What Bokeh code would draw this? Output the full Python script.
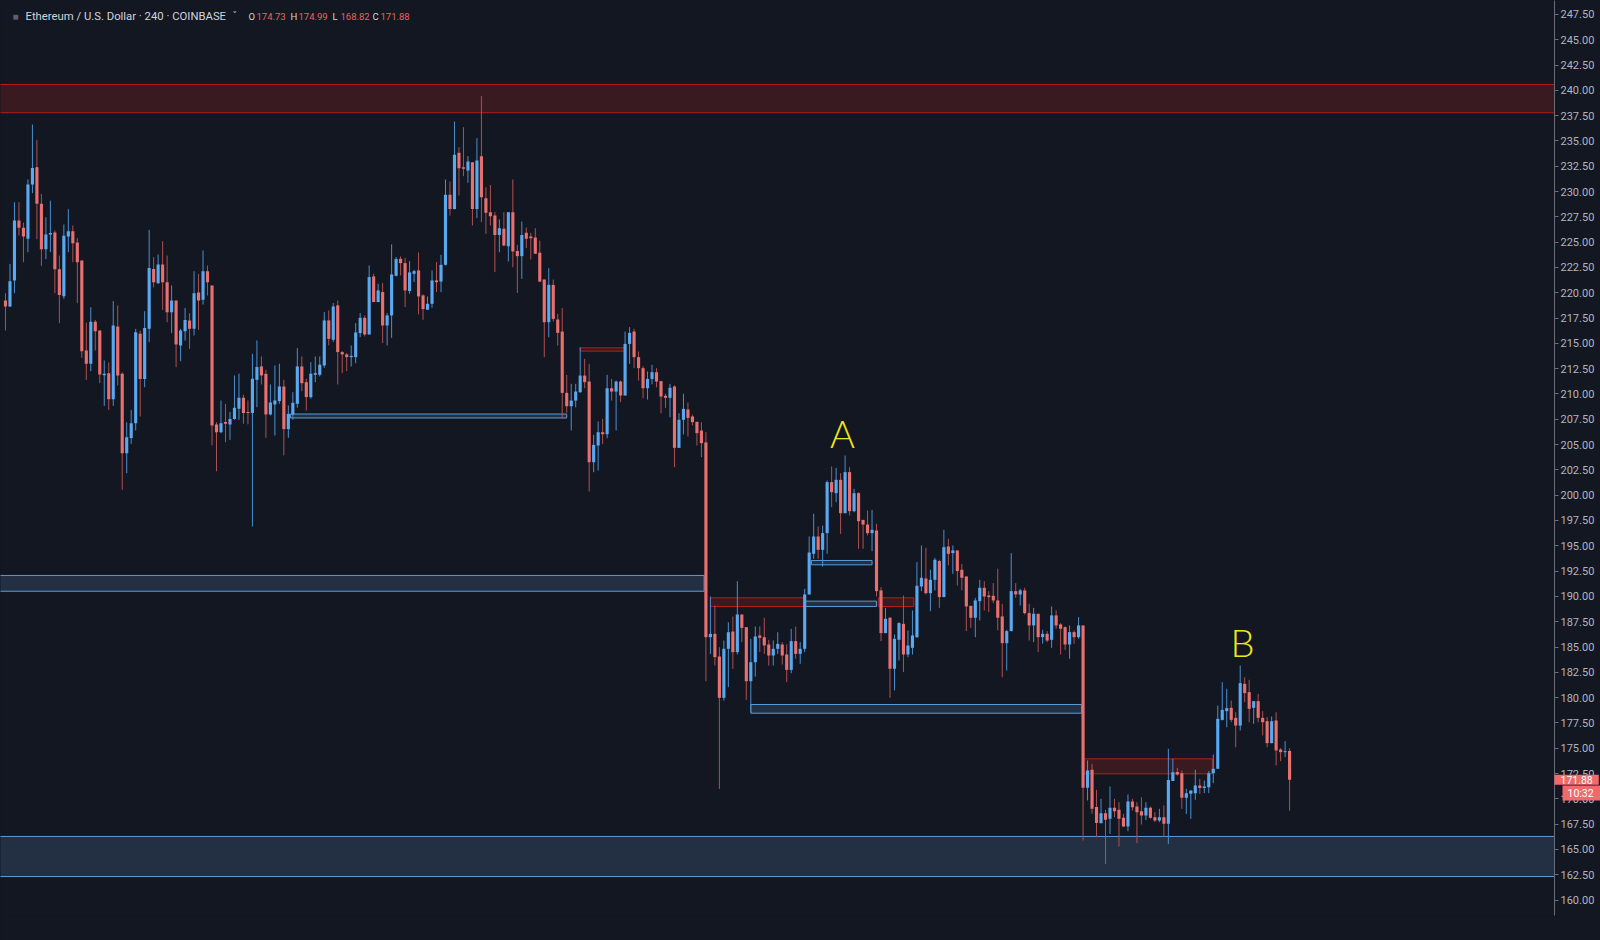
from bokeh.plotting import figure
from bokeh.models import Range1d, FixedTicker, PrintfTickFormatter, Label, ColumnDataSource
from bokeh.embed import file_html
from bokeh.resources import INLINE
from bokeh.core.properties import value

# ---------------- data (ETH/USD, 4h candles, Coinbase) ----------------
opens = [
    219.24, 218.64, 221.21, 227.14, 226.42, 225.33, 230.70, 232.41, 228.79, 224.31,
    225.76, 225.95, 222.33, 219.66, 225.56, 226.09, 224.97, 223.19, 214.30, 212.98,
    217.13, 216.27, 211.85, 212.05, 209.49, 216.67, 211.99, 204.15, 205.66, 207.11,
    215.94, 211.49, 216.44, 222.36, 220.95, 222.79, 221.05, 218.08, 219.23, 214.79,
    216.20, 217.26, 216.44, 220.03, 219.30, 222.13, 220.72, 206.98, 206.23, 207.22,
    206.99, 207.52, 208.54, 209.63, 208.21, 208.11, 211.40, 212.72, 211.99, 207.98,
    208.96, 209.30, 210.74, 206.53, 207.98, 209.03, 212.72, 211.17, 209.69, 211.90,
    211.90, 212.82, 217.27, 215.36, 218.75, 214.14, 213.91, 213.64, 213.64, 216.02,
    217.53, 215.88, 221.61, 219.08, 220.07, 216.77, 217.76, 221.68, 223.36, 222.93,
    220.17, 221.88, 222.21, 219.74, 218.32, 218.91, 221.22, 221.11, 222.76, 229.68,
    228.29, 233.83, 232.41, 232.08, 232.90, 228.29, 233.50, 229.35, 227.96, 227.63,
    225.72, 226.32, 224.60, 227.96, 224.14, 223.62, 225.92, 225.56, 225.46, 223.95,
    221.31, 217.09, 220.78, 217.36, 216.17, 210.11, 208.79, 209.35, 210.18, 211.82,
    211.23, 203.26, 204.91, 206.22, 206.03, 210.57, 210.24, 211.23, 209.85, 214.95,
    216.17, 213.64, 212.55, 210.57, 211.49, 212.15, 211.27, 209.82, 209.62, 210.74,
    204.68, 207.45, 208.47, 207.78, 207.25, 206.39, 205.21, 185.97, 186.30, 184.06,
    179.98, 184.82, 186.53, 184.49, 188.21, 186.96, 181.62, 183.50, 186.14, 185.97,
    185.25, 184.16, 184.82, 185.25, 184.26, 182.74, 185.58, 184.32, 184.82, 190.19,
    194.21, 195.92, 194.60, 196.25, 201.29, 200.20, 201.52, 198.22, 202.28, 198.42,
    200.20, 197.56, 197.10, 196.25, 196.51, 190.59, 186.37, 187.89, 182.85, 185.71,
    187.29, 184.26, 184.92, 185.97, 190.98, 191.77, 190.32, 191.64, 193.49, 189.93,
    194.93, 194.28, 194.54, 192.63, 191.97, 189.07, 187.89, 189.53, 190.85, 190.09,
    190.06, 189.60, 188.02, 185.38, 186.57, 190.52, 190.19, 190.59, 188.35, 187.13,
    188.28, 185.97, 186.30, 185.71, 188.12, 187.23, 186.96, 185.25, 186.47, 185.97,
    187.13, 171.09, 172.87, 169.18, 167.59, 168.58, 168.02, 169.11, 168.91, 168.12,
    167.26, 169.73, 169.24, 168.78, 168.35, 169.11, 168.19, 167.86, 168.19, 167.53,
    171.77, 172.66, 172.53, 170.10, 170.49, 170.56, 171.31, 171.08, 171.15, 172.53,
    172.96, 177.80, 178.66, 178.99, 178.00, 177.24, 181.36, 180.54, 178.99, 179.65,
    178.00, 177.67, 175.50, 177.74, 174.87, 174.61, 174.73,
]
highs = [
    219.96, 222.86, 228.95, 228.95, 226.94, 231.19, 236.63, 235.11, 229.77, 227.47,
    229.10, 226.15, 223.68, 226.75, 228.26, 226.65, 225.43, 223.19, 217.06, 218.58,
    217.32, 216.27, 213.31, 213.11, 219.17, 218.74, 212.15, 207.21, 208.43, 216.44,
    216.27, 218.18, 226.22, 223.52, 223.78, 225.10, 223.68, 220.72, 219.23, 216.44,
    218.51, 217.98, 222.13, 221.87, 224.18, 222.69, 220.72, 207.21, 209.36, 209.03,
    208.21, 211.83, 212.00, 209.92, 209.36, 213.97, 215.29, 213.71, 212.39, 210.94,
    212.82, 212.99, 211.40, 208.87, 210.18, 214.53, 213.71, 211.50, 213.15, 213.71,
    213.71, 218.09, 218.26, 218.98, 219.24, 214.24, 214.04, 214.80, 217.00, 217.99,
    217.76, 222.70, 221.88, 220.89, 220.96, 217.99, 224.78, 223.53, 223.59, 223.46,
    223.13, 222.27, 223.99, 219.84, 219.64, 222.21, 223.03, 223.75, 231.19, 230.99,
    236.92, 234.39, 236.36, 233.50, 232.90, 235.28, 239.43, 230.43, 230.66, 227.96,
    227.24, 227.96, 227.96, 231.19, 224.74, 227.04, 226.45, 225.92, 226.38, 225.16,
    221.31, 222.43, 221.31, 217.92, 218.48, 211.89, 211.00, 211.00, 214.62, 213.47,
    212.98, 205.96, 207.28, 207.54, 211.89, 211.49, 211.33, 211.33, 216.17, 216.60,
    216.44, 214.20, 212.75, 212.22, 212.88, 212.55, 211.27, 210.02, 211.00, 210.84,
    208.10, 210.02, 209.16, 207.97, 207.25, 207.22, 206.23, 189.99, 189.10, 184.98,
    185.64, 187.45, 188.01, 191.50, 188.21, 186.96, 185.81, 187.03, 187.03, 187.88,
    185.71, 185.64, 186.46, 185.48, 185.25, 186.79, 187.03, 185.48, 190.75, 195.92,
    198.16, 196.91, 197.00, 201.45, 202.84, 202.70, 202.18, 203.92, 202.77, 200.63,
    200.30, 197.56, 198.49, 198.55, 197.17, 190.92, 188.87, 187.95, 186.24, 187.46,
    190.09, 186.64, 188.61, 193.39, 195.03, 194.80, 192.63, 193.81, 193.62, 196.58,
    195.69, 195.03, 194.54, 193.22, 191.97, 189.07, 189.86, 191.64, 191.51, 190.52,
    191.31, 192.73, 189.27, 186.70, 194.28, 191.31, 190.75, 190.85, 189.27, 188.87,
    188.28, 186.70, 186.57, 189.01, 188.61, 187.36, 187.03, 187.13, 186.64, 187.95,
    187.13, 173.79, 173.46, 170.89, 170.00, 168.91, 171.22, 170.00, 169.67, 168.51,
    170.43, 170.00, 169.67, 170.16, 169.67, 169.24, 168.68, 169.01, 169.34, 174.94,
    173.95, 173.06, 172.80, 170.99, 170.82, 172.86, 171.97, 171.81, 172.73, 174.38,
    179.22, 181.52, 180.87, 179.71, 178.56, 183.17, 182.02, 181.76, 179.65, 180.37,
    178.66, 178.07, 178.13, 178.56, 175.01, 175.70, 174.99,
]
lows = [
    216.27, 218.60, 219.96, 225.66, 223.02, 224.01, 229.84, 225.30, 222.66, 223.32,
    224.01, 219.96, 217.00, 219.40, 224.01, 223.02, 218.97, 213.57, 211.40, 212.25,
    214.30, 211.07, 208.83, 208.43, 208.83, 210.84, 200.53, 202.17, 205.07, 206.39,
    207.77, 210.67, 215.12, 220.55, 220.88, 218.31, 217.09, 216.01, 212.65, 213.24,
    215.28, 214.46, 215.78, 216.34, 218.84, 219.73, 204.91, 202.37, 206.13, 205.24,
    205.47, 207.45, 207.45, 207.06, 207.00, 196.91, 208.70, 210.94, 205.67, 207.88,
    205.90, 209.03, 203.93, 205.67, 207.45, 208.64, 210.28, 208.37, 209.53, 211.17,
    211.73, 212.59, 214.80, 215.13, 210.94, 212.06, 212.26, 212.72, 213.05, 215.62,
    215.69, 215.88, 219.08, 219.08, 215.03, 214.80, 215.55, 221.61, 221.71, 218.58,
    219.90, 221.05, 217.86, 217.33, 218.32, 218.52, 220.07, 220.06, 222.69, 227.63,
    228.23, 229.61, 231.52, 230.86, 226.65, 227.37, 226.98, 225.82, 226.65, 222.04,
    224.01, 224.60, 223.09, 222.53, 219.99, 221.38, 224.41, 223.29, 223.85, 221.05,
    213.64, 215.61, 217.16, 214.79, 207.54, 208.14, 206.39, 208.69, 210.11, 210.57,
    200.36, 202.27, 202.44, 205.07, 205.63, 209.35, 206.39, 209.19, 209.85, 212.98,
    212.55, 211.33, 209.58, 209.45, 210.96, 210.67, 208.10, 208.63, 207.71, 202.77,
    204.68, 206.00, 205.80, 206.89, 204.91, 203.76, 181.62, 184.32, 183.17, 170.98,
    179.71, 181.03, 182.84, 184.26, 185.48, 179.78, 178.50, 182.08, 184.49, 184.32,
    183.17, 183.17, 184.32, 183.27, 181.52, 182.41, 183.83, 183.34, 184.49, 190.19,
    193.71, 193.71, 192.95, 194.21, 198.82, 199.31, 196.18, 198.22, 197.99, 198.32,
    194.70, 194.70, 196.02, 194.47, 189.99, 185.58, 186.37, 179.98, 180.71, 183.67,
    182.52, 183.99, 184.26, 185.91, 190.52, 190.19, 188.54, 190.59, 188.87, 189.93,
    193.06, 192.23, 191.08, 190.59, 186.57, 186.90, 185.97, 187.62, 188.61, 188.45,
    189.34, 186.64, 182.02, 182.68, 186.57, 189.86, 189.10, 188.22, 185.64, 185.48,
    184.49, 185.32, 185.48, 184.92, 186.80, 184.26, 184.72, 183.83, 185.32, 185.81,
    165.88, 169.84, 168.52, 166.21, 167.59, 163.57, 166.54, 168.19, 165.29, 167.20,
    166.80, 168.84, 165.62, 167.46, 167.92, 168.02, 167.69, 167.69, 166.21, 165.55,
    171.77, 172.30, 169.01, 168.51, 168.02, 169.90, 170.49, 170.56, 170.56, 171.54,
    172.96, 177.74, 177.08, 177.57, 175.10, 176.75, 179.55, 177.57, 177.41, 177.57,
    176.26, 175.10, 175.50, 173.29, 173.72, 174.12, 168.82,
]
closes = [
    218.64, 221.15, 227.14, 226.42, 225.56, 230.70, 232.34, 228.79, 224.31, 225.76,
    225.90, 222.33, 219.79, 225.63, 226.09, 224.90, 223.02, 214.23, 212.98, 217.13,
    216.20, 211.92, 211.99, 209.49, 216.77, 211.82, 204.15, 205.73, 207.11, 216.11,
    211.49, 216.53, 222.46, 221.05, 222.79, 221.05, 218.08, 219.23, 214.89, 216.27,
    217.32, 216.44, 219.96, 219.23, 222.13, 221.05, 206.88, 206.22, 207.12, 207.06,
    207.52, 208.64, 209.63, 208.11, 208.11, 211.50, 212.66, 211.83, 207.98, 209.16,
    209.36, 210.74, 206.53, 208.04, 209.13, 212.72, 211.07, 209.69, 212.00, 212.06,
    212.89, 217.27, 215.45, 218.65, 214.14, 213.91, 213.64, 213.77, 216.08, 217.53,
    215.88, 221.55, 219.08, 220.23, 216.77, 217.76, 221.81, 223.33, 222.93, 220.23,
    222.01, 222.14, 219.64, 218.39, 218.91, 221.22, 221.05, 222.76, 229.68, 228.29,
    233.63, 232.31, 232.25, 232.97, 228.29, 233.07, 229.45, 227.90, 227.57, 225.72,
    226.38, 224.67, 227.96, 224.08, 223.62, 225.72, 225.33, 225.40, 223.85, 221.11,
    217.09, 220.78, 217.42, 216.04, 210.11, 208.79, 209.35, 210.24, 211.82, 211.17,
    203.26, 204.97, 206.22, 206.03, 210.57, 210.24, 211.23, 209.85, 214.95, 216.04,
    213.64, 212.55, 210.57, 211.49, 212.15, 211.23, 209.75, 209.62, 210.61, 204.68,
    207.45, 208.53, 207.64, 207.22, 206.13, 205.14, 185.97, 186.30, 184.00, 179.98,
    184.82, 186.46, 184.49, 188.21, 186.89, 181.62, 183.50, 186.04, 185.91, 185.15,
    184.16, 184.82, 185.31, 184.16, 182.74, 185.58, 184.32, 184.82, 190.19, 194.34,
    195.92, 194.60, 196.25, 201.29, 200.30, 201.52, 198.22, 202.28, 198.42, 200.20,
    197.43, 197.10, 196.25, 196.58, 190.52, 186.37, 187.79, 182.85, 185.81, 187.36,
    184.26, 185.15, 186.14, 191.05, 191.84, 190.32, 191.64, 193.62, 189.93, 194.87,
    194.21, 194.54, 192.50, 191.84, 189.01, 187.89, 189.60, 190.85, 189.99, 189.93,
    189.60, 187.89, 185.38, 186.57, 190.52, 190.19, 190.59, 188.35, 187.13, 188.28,
    185.97, 186.30, 185.64, 188.12, 187.13, 186.80, 185.25, 186.47, 185.97, 187.13,
    171.09, 172.80, 169.01, 167.60, 168.58, 167.92, 169.11, 168.78, 168.02, 167.26,
    169.73, 169.17, 168.68, 168.35, 169.11, 168.12, 167.86, 168.19, 167.53, 171.87,
    172.63, 172.40, 170.10, 170.56, 170.82, 171.31, 171.08, 171.22, 172.53, 172.96,
    177.90, 178.79, 178.96, 177.80, 177.24, 181.43, 180.44, 178.89, 179.65, 178.00,
    177.57, 175.50, 177.67, 174.78, 174.61, 174.71, 171.88,
]

# price zones (bottom, top, first bar, last bar, kind)
zone_bottom = [237.79, 162.32, 190.51, 207.63, 214.23, 189.00, 189.00, 193.12, 189.00, 178.46, 172.47]
zone_top    = [240.58, 166.28, 192.07, 208.02, 214.56, 189.86, 189.86, 193.55, 189.53, 179.32, 173.95]
zone_start  = [-10, -10, -10, 63.5, 128.0, 157.0, 194.4, 179.5, 178.0, 166.0, 240.0]
zone_end    = [400, 400, 155.6, 125.0, 138.0, 178.0, 202.3, 193.0, 194.0, 239.7, 268.8]
zone_kind   = ["supply", "demand", "demand", "demand", "supply", "supply", "supply",
               "demand", "demand", "demand", "supply"]

price_ticks = [157.5 + 2.5 * k for k in range(37)]
annotations = ["A", "B"]
annot_bar = [186.4, 275.5]
annot_price = [206.15, 185.54]

title_text = "Ethereum / U.S. Dollar · 240 · COINBASE"
ohlc_names = ["O", "H", "L", "C"]
countdown = "10:32"

# ---------------- styling ----------------
BG = "#131722"
UP_BODY, DN_BODY = "#5aa9f0", "#e8716f"
UP_WICK, DN_WICK = "#4a8fd0", "#b05050"
SUP_FILL, SUP_LINE = "#3a1a21", "#b71c1c"
DEM_FILL, DEM_LINE = "#233044", "#5b9bd5"
TAG = "#ef6b6b"

p = figure(width=1600, height=940, output_backend="svg", toolbar_location=None,
           x_range=Range1d(-1.11, 345.0), y_range=Range1d(158.47, 248.88),
           background_fill_color=BG, border_fill_color=BG,
           min_border_left=0, min_border_right=46, min_border_top=0, min_border_bottom=0,
           x_axis_location=None, y_axis_location="right")
p.grid.grid_line_color = None
p.outline_line_color = None

ax = p.yaxis[0]
ax.ticker = FixedTicker(ticks=price_ticks)
ax.formatter = PrintfTickFormatter(format="%.2f")
ax.major_label_text_color = "#b2b5be"
ax.major_label_text_font = "Roboto"
ax.major_label_text_font_size = "11px"
ax.axis_line_color = "#6a6d78"
ax.major_tick_line_color = "#6a6d78"
ax.major_tick_out = 4
ax.major_tick_in = 0
ax.minor_tick_line_color = None
ax.major_label_standoff = 2

# zones
zsrc = ColumnDataSource(dict(
    left=zone_start, right=zone_end, bottom=zone_bottom, top=zone_top,
    fill=[SUP_FILL if k == "supply" else DEM_FILL for k in zone_kind],
    line=[SUP_LINE if k == "supply" else DEM_LINE for k in zone_kind],
))
p.quad(left="left", right="right", bottom="bottom", top="top", source=zsrc,
       fill_color="fill", line_color="line", line_width=1)

# candles
idx = list(range(len(opens)))
is_up = [c >= o for o, c in zip(opens, closes)]
btop = [max(o, c) for o, c in zip(opens, closes)]
bbot = [min(o, c) if max(o, c) - min(o, c) >= 0.1 else max(o, c) - 0.1
        for o, c in zip(opens, closes)]
csrc = ColumnDataSource(dict(
    x=idx, high=highs, low=lows, top=btop, bottom=bbot,
    body=[UP_BODY if u else DN_BODY for u in is_up],
    wick=[UP_WICK if u else DN_WICK for u in is_up],
))
p.segment(x0="x", y0="high", x1="x", y1="low", source=csrc, line_color="wick", line_width=1)
p.vbar(x="x", width=0.7, top="top", bottom="bottom", source=csrc,
       fill_color="body", line_color=None)

# hand-written markers
p.text(x=annot_bar, y=annot_price, text=annotations, text_color="#f2e51c",
       text_font=value("Lato Light, Lato"), text_font_size="38px",
       text_align="center", text_baseline="middle")

# header (x in screen px, y at the top price level)
HY = 247.33
p.add_layout(Label(x=12, y=HY, x_units="screen", text="■",
                   text_color="#5d606b", text_font_size="10px", text_baseline="middle"))
p.add_layout(Label(x=25, y=HY, x_units="screen", text=title_text,
                   text_color="#d1d4dc", text_font="Roboto", text_font_size="11.3px",
                   text_baseline="middle"))
p.add_layout(Label(x=232, y=HY + 0.1, x_units="screen", text="˅",
                   text_color="#d1d4dc", text_font="DejaVu Sans", text_font_size="9px",
                   text_baseline="middle"))
ohlc_vals = [opens[-1], highs[-1], lows[-1], closes[-1]]
letter_x = [248, 290, 332, 372]
for name, val, lx in zip(ohlc_names, ohlc_vals, letter_x):
    p.add_layout(Label(x=lx, y=HY, x_units="screen", text=name,
                       text_color="#d1d4dc", text_font="Roboto", text_font_size="9.5px",
                       text_baseline="middle"))
    p.add_layout(Label(x=lx + 8, y=HY, x_units="screen", text=f"{val:.2f}",
                       text_color="#ef5f5f", text_font="Roboto", text_font_size="9.5px",
                       text_baseline="middle"))

# last price tag and bar countdown on the price scale (side panel => not clipped to frame)
p.add_layout(Label(x=345.0, y=closes[-1], text=f"{closes[-1]:.2f}",
                   text_color="#ffffff", text_font="Roboto", text_font_size="10.5px",
                   text_baseline="middle", background_fill_color=TAG,
                   padding=dict(left=6, right=6, top=1, bottom=1)), "below")
p.add_layout(Label(x=345.0, y=closes[-1] - 1.31, text=countdown, x_offset=8,
                   text_color="#ffffff", text_font="Roboto", text_font_size="10.5px",
                   text_baseline="middle", background_fill_color=TAG,
                   padding=dict(left=5, right=8, top=1, bottom=1)), "below")

html = file_html(p, INLINE, title="ETHUSD 240")
html = html.replace("<body>", "<body style=\"background:#131722\">")
open("out.html", "w").write(html)
